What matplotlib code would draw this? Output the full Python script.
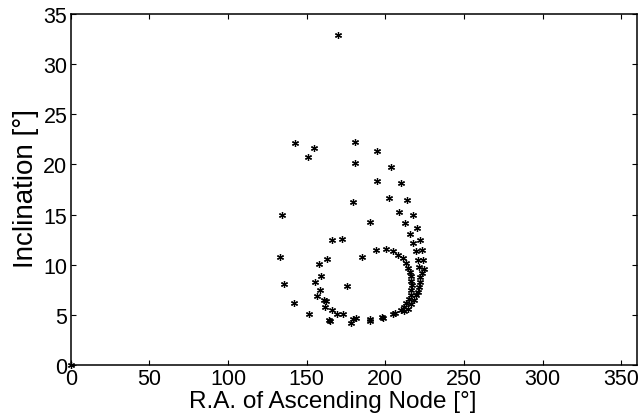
import matplotlib
matplotlib.use("Agg")
import matplotlib.pyplot as plt

plt.rcParams['font.family'] = ['Liberation Sans', 'DejaVu Sans']

# R.A. of ascending node [deg] and inclination [deg]
raan = [0.0,
        169.8, 142.6, 154.5, 150.9, 180.7, 180.5, 194.8, 203.6, 194.5, 209.8,
        179.2, 202.5, 214.0, 134.2, 133.0, 162.8, 157.9, 159.4, 155.5, 135.5,
        158.7, 156.6, 160.9, 141.8, 161.8, 151.6, 164.4,
        208.8, 217.9, 190.1, 212.6, 220.2, 215.6, 166.1, 172.2, 221.9, 217.9,
        219.8, 223.2, 194.1, 200.4, 204.8, 208.2, 211.2, 185.1, 221.0, 224.2,
        213.3, 221.7, 224.4, 214.7, 215.6, 223.2, 221.9, 216.4, 216.6, 221.9,
        175.8, 216.8, 221.7, 220.6, 216.4, 216.4, 219.6, 215.2, 218.1, 213.3,
        216.4, 211.6, 214.7, 209.7, 211.8, 204.8, 206.3, 198.7, 198.2, 190.0,
        190.0, 181.6, 179.2, 178.2, 173.3, 169.5, 166.4, 165.1, 162.1]
incl = [0.0,
        32.9, 22.1, 21.6, 20.7, 22.2, 20.1, 21.3, 19.7, 18.3, 18.1,
        16.3, 16.7, 16.5, 15.0, 10.8, 10.6, 10.1, 8.9, 8.3, 8.05,
        7.5, 6.9, 6.5, 6.2, 5.8, 5.1, 4.5,
        15.3, 15.0, 14.3, 14.2, 13.7, 13.1, 12.5, 12.6, 12.5, 12.2,
        11.4, 11.45, 11.5, 11.6, 11.4, 11.0, 10.65, 10.75, 10.5, 10.5,
        10.2, 9.8, 9.6, 9.7, 9.3, 9.2, 8.8, 8.9, 8.4, 8.3,
        7.85, 7.95, 7.8, 7.3, 7.45, 7.0, 7.0, 6.6, 6.5, 6.2,
        6.1, 5.8, 5.6, 5.5, 5.4, 5.1, 5.15, 4.7, 4.75, 4.55,
        4.4, 4.7, 4.6, 4.2, 5.05, 5.05, 5.5, 4.4, 6.4]

fig = plt.figure(figsize=(6.44, 4.14), dpi=100)
ax = fig.add_axes([0.110, 0.1159, 0.879, 0.848])

ax.plot(raan, incl, linestyle='none', marker=(6, 2, 0), markersize=5,
        color='k', markeredgewidth=0.9, clip_on=False)

ax.set_xlim(0, 360)
ax.set_ylim(0, 35)
ax.set_xticks(range(0, 351, 50))
ax.set_yticks(range(0, 36, 5))
ax.tick_params(direction='in', top=True, right=True, length=3.6, width=0.8,
               labelsize=15.5, pad=2.5)
for s in ax.spines.values():
    s.set_linewidth(1.1)

ax.set_xlabel('R.A. of Ascending Node [°]', fontsize=17.5, va='baseline')
ax.xaxis.set_label_coords(0.462, -0.121)
ax.set_ylabel('Inclination [°]', fontsize=20, va='baseline')
ax.yaxis.set_label_coords(-0.067, 0.506)

fig.savefig('out.png', dpi=100)
